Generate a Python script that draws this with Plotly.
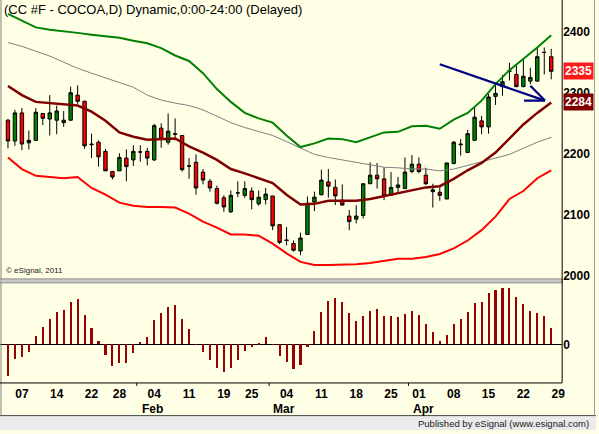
import plotly.graph_objects as go

W, H = 599, 434

# ---------------- data ----------------
bar_idx = list(range(79))
opens = [2255, 2221, 2267, 2218, 2222, 2266, 2257, 2255, 2251, 2255,
         2296, 2286, 2216, 2219, 2204, 2171, 2172, 2193, 2190, 2203,
         2204, 2190, 2242, 2219, 2233, 2230, 2180, 2186, 2170, 2155,
         2143, 2128, 2105, 2136, 2132, 2139, 2118, 2125, 2131, 2084,
         2059, 2053, 2041, 2068, 2121, 2133, 2154, 2145, 2124, 2098,
         2093, 2099, 2151, 2165, 2159, 2132, 2145, 2143, 2171, 2183,
         2165, 2138, 2137, 2126, 2184, 2216, 2202, 2222, 2254, 2244,
         2294, 2310, 2336, 2330, 2310, 2319, 2319, 2366, 2359]
highs = [2257, 2272, 2275, 2238, 2275, 2266, 2296, 2279, 2270, 2310,
         2312, 2287, 2233, 2222, 2208, 2172, 2201, 2207, 2214, 2214,
         2210, 2249, 2250, 2266, 2258, 2230, 2193, 2199, 2175, 2159,
         2148, 2132, 2140, 2155, 2155, 2145, 2140, 2144, 2131, 2084,
         2080, 2058, 2071, 2130, 2138, 2174, 2175, 2158, 2150, 2108,
         2116, 2151, 2186, 2185, 2178, 2170, 2162, 2194, 2198, 2194,
         2177, 2151, 2145, 2185, 2221, 2224, 2239, 2275, 2262, 2298,
         2316, 2329, 2349, 2345, 2356, 2341, 2374, 2374, 2372]
lows = [2209, 2213, 2206, 2207, 2222, 2247, 2230, 2232, 2244, 2254,
        2282, 2208, 2193, 2179, 2172, 2158, 2172, 2155, 2180, 2187,
        2181, 2188, 2210, 2215, 2222, 2171, 2159, 2133, 2150, 2138,
        2117, 2105, 2103, 2129, 2128, 2109, 2115, 2117, 2075, 2052,
        2050, 2040, 2034, 2067, 2106, 2132, 2128, 2116, 2116, 2075,
        2086, 2094, 2151, 2143, 2124, 2131, 2136, 2143, 2168, 2168,
        2149, 2112, 2123, 2126, 2183, 2197, 2202, 2222, 2232, 2233,
        2280, 2295, 2320, 2309, 2309, 2314, 2318, 2330, 2322]
closes = [2221, 2267, 2216, 2222, 2268, 2258, 2267, 2270, 2255, 2300,
          2286, 2213, 2215, 2195, 2172, 2162, 2194, 2179, 2204, 2203,
          2193, 2246, 2224, 2237, 2232, 2174, 2180, 2144, 2157, 2144,
          2119, 2113, 2132, 2136, 2143, 2125, 2129, 2134, 2082, 2055,
          2058, 2042, 2062, 2119, 2129, 2157, 2147, 2131, 2116, 2089,
          2098, 2151, 2165, 2159, 2131, 2145, 2149, 2170, 2183, 2171,
          2151, 2141, 2132, 2185, 2219, 2215, 2233, 2260, 2244, 2293,
          2299, 2318, 2335, 2310, 2327, 2325, 2359, 2366, 2335]

band_idx = list(range(0, 79, 2))
upper_band = [2429, 2418, 2407, 2403, 2401, 2398, 2395, 2393, 2390, 2385,
              2381, 2373, 2361, 2352, 2332, 2306, 2285, 2267, 2258, 2251,
              2230, 2211, 2217, 2225, 2224, 2219, 2227, 2235, 2236, 2245,
              2246, 2241, 2256, 2267, 2287, 2314, 2337, 2355, 2374, 2394]
slow_ma = [2382, 2376, 2368, 2360, 2350, 2340, 2332, 2324, 2316, 2309,
           2296, 2288, 2283, 2279, 2272, 2261, 2251, 2243, 2236, 2230,
           2220, 2209, 2199, 2194, 2190, 2185, 2181, 2178, 2177, 2175,
           2175, 2172, 2175, 2181, 2186, 2193, 2199, 2209, 2219, 2227]
mid_ma = [2311, 2296, 2285, 2283, 2281, 2279, 2269, 2254, 2235, 2228,
          2223, 2224, 2225, 2212, 2202, 2190, 2175, 2168, 2160, 2152,
          2133, 2117, 2118, 2123, 2123, 2123, 2126, 2131, 2135, 2141,
          2145, 2147, 2159, 2173, 2185, 2202, 2225, 2248, 2267, 2284]
lower_band = [2194, 2175, 2164, 2162, 2160, 2162, 2144, 2133, 2120, 2115,
              2113, 2113, 2112, 2102, 2089, 2079, 2068, 2068, 2066, 2053,
              2037, 2023, 2018, 2018, 2018, 2019, 2021, 2024, 2028, 2028,
              2031, 2036, 2045, 2058, 2075, 2097, 2126, 2139, 2160, 2173]

osc = [-32.3, -14.3, -12.3, -7.7, 8.3, 17.3, 25.7, 32.7, 34.3, 43.3,
       46.3, 29.3, 16.3, 3.3, -10.7, -21.7, -18.3, -18.3, -8.3, 2.3,
       7.3, 24.7, 31.3, 37.3, 39.3, 25.3, 15.3, 0.3, -7.3, -15.3,
       -23.3, -28.3, -23.3, -15.3, -6.7, -2.7, 1.3, 7.3, 0.3, -11.7,
       -17.3, -24.3, -21.0, -3.0, 13.3, 32.3, 44.3, 47.3, 43.3, 31.3,
       23.3, 28.3, 33.3, 35.3, 28.3, 28.3, 27.3, 30.3, 33.3, 29.3,
       20.3, 12.3, 3.3, 9.3, 20.3, 25.3, 32.3, 42.3, 43.3, 52.3,
       55.3, 57.3, 57.3, 48.3, 41.3, 33.3, 31.3, 28.3, 16.3]

tick_idx = [2, 7, 12, 16, 21, 26, 31, 35, 40, 45, 50, 55, 59, 64, 69, 74, 79]
tick_text = ["07", "14", "22", "28", "04", "11", "19", "25", "04", "11",
             "18", "25", "01", "08", "15", "22", "29"]
month_idx = [20.7, 39.6, 59.6]
month_text = ["Feb", "Mar", "Apr"]
price_ticks = [2000, 2100, 2200, 2300, 2400]
last_close_label = 2335
mid_ma_label = 2284
arrow_pts = [(62.0, 2346.6), (77.1, 2287.1), (74.1, 2287.1), (75.0, 2311.4)]

# ---------------- helpers (layout positions) ----------------
def px(x):
    return x / W

def py(y):
    return 1 - y / H

BG = "#FFFFE6"
FONT = "Liberation Sans, Arial, sans-serif"
AXIS_X = 565

fig = go.Figure()

fig.add_trace(go.Scatter(x=band_idx, y=slow_ma, mode="lines",
                         line=dict(color="#808080", width=1), xaxis="x", yaxis="y"))
fig.add_trace(go.Scatter(x=band_idx, y=upper_band, mode="lines",
                         line=dict(color="#008000", width=2), xaxis="x", yaxis="y"))
fig.add_trace(go.Scatter(x=band_idx, y=lower_band, mode="lines",
                         line=dict(color="#FF0000", width=2), xaxis="x", yaxis="y"))
fig.add_trace(go.Scatter(x=band_idx, y=mid_ma, mode="lines",
                         line=dict(color="#800000", width=2.5), xaxis="x", yaxis="y"))

fig.add_trace(go.Candlestick(
    x=bar_idx, open=opens, high=highs, low=lows, close=closes,
    increasing=dict(line=dict(color="black", width=1), fillcolor="#008000"),
    decreasing=dict(line=dict(color="black", width=1), fillcolor="#FF0000"),
    whiskerwidth=0, xaxis="x", yaxis="y"))

fig.add_trace(go.Bar(x=bar_idx, y=osc, width=0.3, marker=dict(color="#990000", line=dict(width=0)),
                     xaxis="x", yaxis="y2"))

x_lo = (0 - 8) / 7
x_hi = (AXIS_X - 8) / 7

shapes = []
# bottom gray strip
shapes.append(dict(type="rect", xref="paper", yref="paper", x0=0, x1=1, y0=0, y1=py(420),
                   fillcolor="#EBEBEB", line=dict(width=0), layer="below"))
shapes.append(dict(type="line", xref="paper", yref="paper", x0=0, x1=1, y0=py(419.5), y1=py(419.5),
                   line=dict(color="#404040", width=1)))
# frame
shapes.append(dict(type="line", xref="paper", yref="paper", x0=px(1), x1=px(1), y0=py(419.5), y1=1,
                   line=dict(color="#808080", width=1)))
shapes.append(dict(type="line", xref="paper", yref="paper", x0=px(597.5), x1=px(597.5), y0=py(419.5), y1=1,
                   line=dict(color="#A0A0A0", width=1)))
# panel separator
shapes.append(dict(type="rect", xref="paper", yref="paper", x0=0, x1=px(AXIS_X), y0=py(285.5), y1=py(281.5),
                   fillcolor="#C8C8C8", line=dict(color="#8C8C8C", width=1)))
# right axis and bottom axis lines
shapes.append(dict(type="line", xref="paper", yref="paper", x0=px(AXIS_X), x1=px(AXIS_X), y0=py(386.5), y1=1,
                   line=dict(color="black", width=1)))
shapes.append(dict(type="line", xref="paper", yref="paper", x0=0, x1=px(AXIS_X), y0=py(386.5), y1=py(386.5),
                   line=dict(color="black", width=1)))
# month boundary tick marks
for mi in [19, 38, 58]:
    shapes.append(dict(type="line", xref="x", yref="paper", x0=mi - 0.5, x1=mi - 0.5,
                       y0=py(389.5), y1=py(386.5), line=dict(color="black", width=1)))
# arrow
(ax0, ay0), (ax1, ay1), (hx, hy), (ux, uy) = arrow_pts
for (a, b, c, d) in [(ax0, ay0, ax1, ay1), (hx, hy, ax1, ay1), (ux, uy, ax1, ay1)]:
    shapes.append(dict(type="line", xref="x", yref="y", x0=a, y0=b, x1=c, y1=d,
                       line=dict(color="#000080", width=2.2)))

annotations = []
annotations.append(dict(text="(CC #F - COCOA,D) Dynamic,0:00-24:00 (Delayed)", xref="paper", yref="paper",
                        x=px(2), y=py(10), xanchor="left", yanchor="middle", showarrow=False,
                        font=dict(family=FONT, size=13, color="black")))
annotations.append(dict(text="© eSignal, 2011", xref="paper", yref="paper",
                        x=px(4), y=py(273), xanchor="left", yanchor="middle", showarrow=False,
                        font=dict(family=FONT, size=8, color="#202020")))
annotations.append(dict(text="Published by eSignal (www.esignal.com)", xref="paper", yref="paper",
                        x=px(594), y=py(427), xanchor="right", yanchor="middle", showarrow=False,
                        font=dict(family=FONT, size=9.5, color="#202020")))
for mx, mt in zip(month_idx, month_text):
    annotations.append(dict(text="<b>%s</b>" % mt, xref="x", yref="paper", x=mx, y=py(412.5),
                            xanchor="center", yanchor="middle", showarrow=False,
                            font=dict(family=FONT, size=12, color="black")))
for val, bg in [(last_close_label, "#FF1A1A"), (mid_ma_label, "#800000")]:
    annotations.append(dict(text="<b>%d</b>" % val, xref="paper", yref="y", x=px(AXIS_X + 0.5), y=val,
                            xanchor="left", yanchor="middle", showarrow=False, bgcolor=bg,
                            borderpad=1, font=dict(family=FONT, size=12, color="white")))

fig.update_layout(
    width=W, height=H, margin=dict(l=0, r=0, t=0, b=0),
    paper_bgcolor=BG, plot_bgcolor=BG, showlegend=False,
    xaxis=dict(domain=[0, px(AXIS_X)], range=[x_lo, x_hi], anchor="y2",
               tickmode="array", tickvals=tick_idx, ticktext=["<b>%s</b>" % t for t in tick_text],
               showgrid=False, zeroline=False, showline=False, ticks="", ticklabelstandoff=2,
               tickfont=dict(family=FONT, size=12, color="black"),
               rangeslider=dict(visible=False), fixedrange=True),
    yaxis=dict(domain=[py(281.5), 1], range=[2000 - (282 - 279) / 0.6175 * 1.0, 2000 + 279 / 0.6175],
               side="right", anchor="x", tickmode="array", tickvals=price_ticks,
               ticktext=["<b>%d</b>" % v for v in price_ticks],
               showgrid=False, zeroline=False, showline=False, ticks="",
               tickfont=dict(family=FONT, size=12, color="black")),
    yaxis2=dict(domain=[py(386.5), py(286)], range=[-38.5, 62], side="right", anchor="x",
                tickmode="array", tickvals=[0], ticktext=["<b>0</b>"],
                showgrid=False, zeroline=True, zerolinecolor="black", zerolinewidth=1,
                showline=False, ticks="",
                tickfont=dict(family=FONT, size=12, color="black")),
    shapes=shapes, annotations=annotations, bargap=0,
)

fig.write_html("out.html")
